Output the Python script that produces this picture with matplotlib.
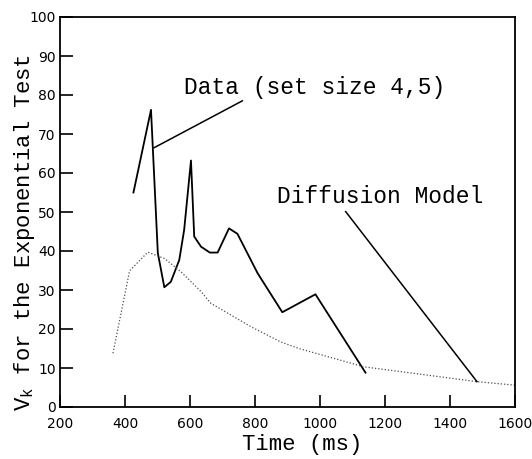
import matplotlib
matplotlib.use("Agg")
import matplotlib.pyplot as plt

# Data (set size 4,5)
data_t = [426, 480, 501, 521, 541, 567, 582, 603, 613, 634, 661, 685, 720, 746, 808, 884, 986, 1140]
data_v = [55, 76.2, 39.5, 30.7, 32.1, 37.7, 45.4, 63.2, 43.7, 41.1, 39.6, 39.6, 45.8, 44.4, 34.3, 24.3, 28.9, 8.8]

# Diffusion model
model_t = [363, 414, 470, 521, 572, 634, 664, 787, 879, 935, 1135, 1483, 1600]
model_v = [13.8, 34.9, 39.7, 38.1, 34.7, 29.6, 26.6, 20.6, 16.7, 15.0, 10.3, 6.5, 5.6]

x_ticks = [200, 400, 600, 800, 1000, 1200, 1400, 1600]
y_ticks = [0, 10, 20, 30, 40, 50, 60, 70, 80, 90, 100]

mono = ['Liberation Mono', 'DejaVu Sans Mono']
narrow = ['Liberation Sans Narrow', 'DejaVu Sans']

fig = plt.figure(figsize=(5.32, 4.59), dpi=100)
ax = fig.add_axes([60/532, 1 - 407/459, (515 - 60)/532, (407 - 17)/459])

ax.plot(data_t, data_v, color='black', lw=1.3)
ax.plot(model_t, model_v, color='0.3', lw=0.9, linestyle=(0, (1, 1.6)))

# annotations with leader lines
ax.text(581, 80.3, 'Data (set size 4,5)', family=mono, fontsize=16.5, va='baseline', ha='left')
ax.plot([761, 490], [78.5, 66.5], color='black', lw=1.1)
ax.text(869, 52.3, 'Diffusion Model', family=mono, fontsize=16.5, va='baseline', ha='left')
ax.plot([1079, 1483], [50.1, 6.5], color='black', lw=1.1)

ax.set_xlim(200, 1600)
ax.set_ylim(0, 100)
ax.set_xticks(x_ticks)
ax.set_yticks(y_ticks)
ax.set_xticklabels([str(t) for t in x_ticks], family=narrow, fontsize=10)
ax.set_yticklabels([str(t) for t in y_ticks], family=narrow, fontsize=10)
ax.tick_params(axis='both', direction='in', length=9, width=1.2, color='black')
ax.tick_params(axis='x', pad=7)
ax.tick_params(axis='y', pad=3)
ax.yaxis.set_ticks_position('left')
ax.xaxis.set_ticks_position('bottom')
for s in ax.spines.values():
    s.set_linewidth(1.3)

ax.set_xlabel('Time (ms)', family=mono, fontsize=16)
ax.xaxis.set_label_coords((302 - 60)/455, -0.07)
fig.text(25/532, 1 - 232/459, r'$\mathregular{V_k}$ for the Exponential Test',
         family=mono, fontsize=16, rotation=90, ha='center', va='center')

fig.savefig('out.png', dpi=100)
